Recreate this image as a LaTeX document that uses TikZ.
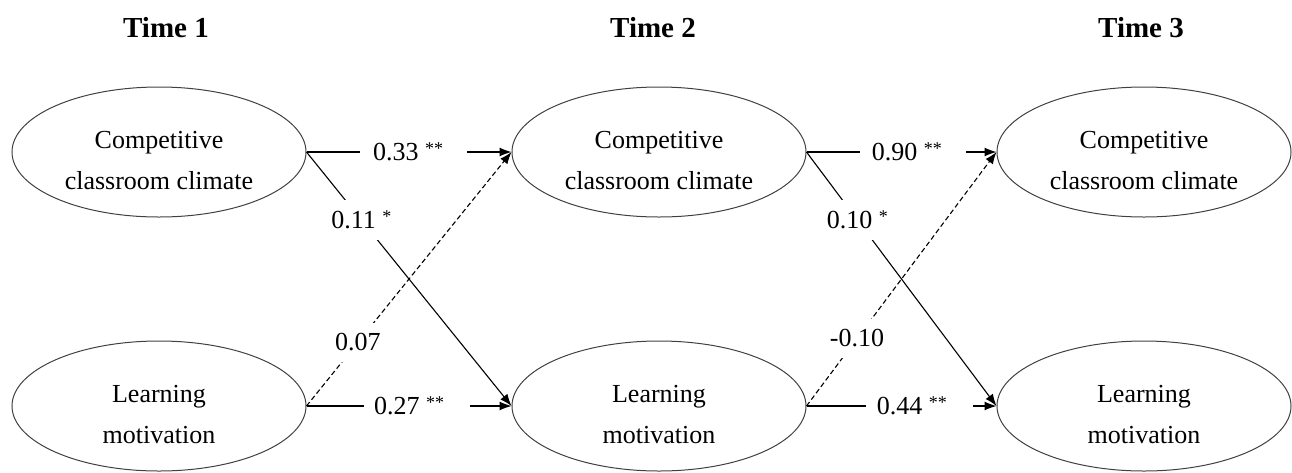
\documentclass[tikz,border=0pt]{standalone}
\usepackage{fontspec}
\setmainfont{Liberation Serif}
\usetikzlibrary{shapes.geometric,arrows.meta}
\newcommand{\sg}[1]{\raisebox{6pt}{\fontsize{18}{18}\selectfont#1}}
\newcommand{\lowr}{\rule{0pt}{34pt}}
\tikzset{
  lat/.style={ellipse, draw=black!75, line width=1pt, minimum width=294pt,
    minimum height=130pt, inner sep=0pt, align=center,
    font=\fontsize{26}{41}\selectfont},
  ttl/.style={font=\fontsize{29}{34}\selectfont\bfseries, anchor=base},
  eff/.style={line width=1.1pt, -{Latex[length=12pt,width=9pt]}},
  effns/.style={eff, dash pattern=on 5pt off 3pt},
  coef/.style={fill=white, inner xsep=0pt, inner ysep=2pt,
    font=\fontsize{26}{30}\selectfont},
  dcoef/.style={coef, inner ysep=11pt, inner xsep=1pt}
}
\begin{document}
\begin{tikzpicture}[x=1pt,y=-1pt]
\useasboundingbox (0,0) rectangle (1292,472);
\node[ttl] (t1) at (166,37) {Time 1};
\node[ttl] (t2) at (653,37) {Time 2};
\node[ttl] (t3) at (1141,37) {Time 3};
\node[lat] (a1) at (159,152) {\lowr Competitive\\classroom climate};
\node[lat] (a2) at (159,406) {\lowr Learning\\motivation};
\node[lat] (b1) at (659,152) {\lowr Competitive\\classroom climate};
\node[lat] (b2) at (659,406) {\lowr Learning\\motivation};
\node[lat] (c1) at (1144,152) {\lowr Competitive\\classroom climate};
\node[lat] (c2) at (1144,406) {\lowr Learning\\motivation};
% Time 1 -> Time 2
\draw[eff] (a1.east) -- node[coef,pos=0.522] (l1) {\hspace*{13pt}0.33 \sg{**}\hspace*{24pt}} (b1.west);
\draw[eff] (a2.east) -- node[coef,pos=0.539] (l2) {\hspace*{10pt}0.27 \sg{**}\hspace*{26pt}} (b2.west);
\draw[eff] (a1.east) -- node[dcoef,pos=0.268] (l3) {0.11 \sg{*}} (b2.west);
\draw[effns] (a2.east) -- node[dcoef,pos=0.25] (l4) {0.07} (b1.west);
% Time 2 -> Time 3
\draw[eff] (b1.east) -- node[coef,pos=0.56] (l5) {\hspace*{12pt}0.90 \sg{**}\hspace*{24pt}} (c1.west);
\draw[eff] (b2.east) -- node[coef,pos=0.594] (l6) {\hspace*{11pt}0.44 \sg{**}\hspace*{26pt}} (c2.west);
\draw[eff] (b1.east) -- node[dcoef,pos=0.268] (l7) {0.10 \sg{*}} (c2.west);
\draw[effns] (b2.east) -- node[dcoef,pos=0.266] (l8) {-0.10} (c1.west);
\end{tikzpicture}
\end{document}
